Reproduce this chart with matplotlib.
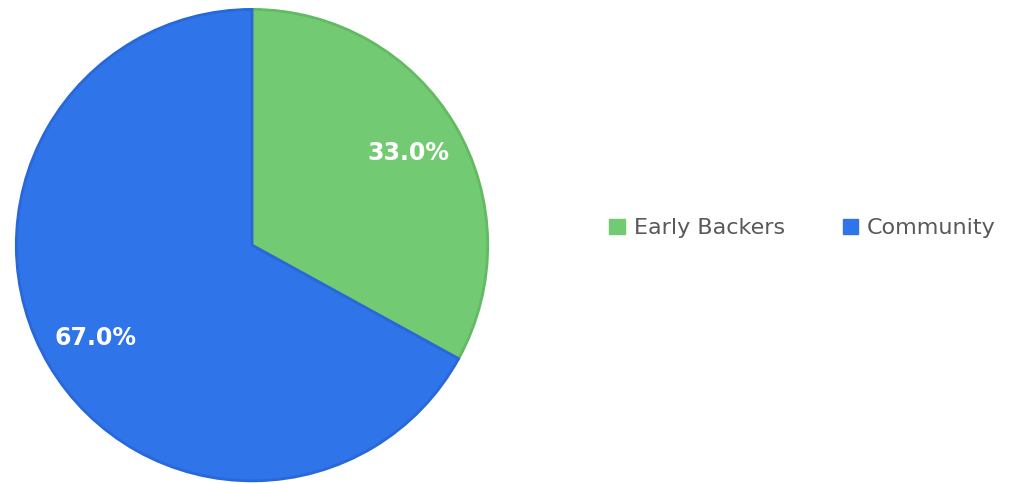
import matplotlib.pyplot as plt
from matplotlib.patches import Patch

labels = ["Early Backers", "Community"]
shares = [33.0, 67.0]
colors = ["#72CB72", "#2F74E8"]
edges = ["#62BA62", "#2868D8"]

fig = plt.figure(figsize=(10.16, 4.83), dpi=100)
ax = fig.add_axes([0.0148, 0.002, 0.4665, 0.981])

wedges, texts, autotexts = ax.pie(
    shares, colors=colors, startangle=90, counterclock=False,
    autopct="%1.1f%%", pctdistance=0.77,
    wedgeprops=dict(linewidth=2),
    textprops=dict(color="white", fontsize=17, fontweight="bold"))
for w, ec in zip(wedges, edges):
    w.set_edgecolor(ec)
ax.set_xlim(-1.005, 1.005)
ax.set_ylim(-1.005, 1.005)
ax.set_aspect("equal")

handles = [Patch(facecolor=c, edgecolor=c) for c in colors]
fig.legend(handles, labels, loc="center", bbox_to_anchor=(0.79, 0.527),
           ncol=2, frameon=False, fontsize=16, labelcolor="#595959",
           handlelength=0.7, handleheight=0.7, handletextpad=0.4,
           columnspacing=2.6)

fig.savefig("out.png", dpi=100)
